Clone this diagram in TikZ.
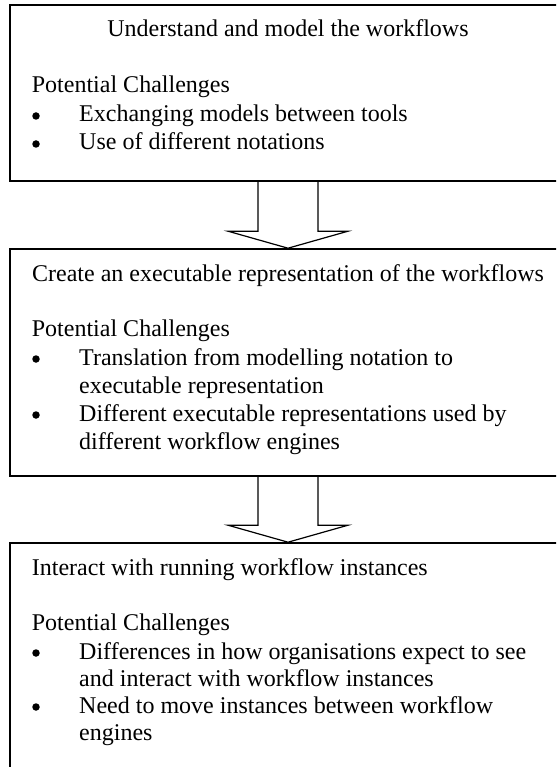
\documentclass[tikz,border=0pt]{standalone}
\usepackage{fontspec}
\setmainfont{Liberation Serif}
\usetikzlibrary{calc}
\begin{document}
\begin{tikzpicture}[x=1pt,y=-1pt,
  box/.style={draw, line width=1.6pt, rectangle, minimum width=556pt, inner sep=0pt},
  blk/.style={draw, line width=1.2pt, line join=miter},
  txt/.style={font=\fontsize{24}{28}\selectfont, inner sep=0pt, anchor=base west},
  ttl/.style={font=\fontsize{24}{28}\selectfont, inner sep=0pt, anchor=base},
  bul/.style={circle, fill=black, inner sep=0pt, minimum size=7.5pt}]
\useasboundingbox (0,0) rectangle (556,767);
\clip (0,0) rectangle (556,767);
% boxes
\node[box, minimum height=176pt] (b1) at (288,93) {};
\node[box, minimum height=227pt] (b2) at (288,362.5) {};
\node[box, minimum height=237pt] (b3) at (288,661.5) {};
% block arrows
\draw[blk] ($(b1.south)+(-30,0)$) -- ($(b2.north)+(-30,-17)$) -- ($(b2.north)+(-60,-17)$)
  -- (b2.north) -- ($(b2.north)+(60,-17)$) -- ($(b2.north)+(30,-17)$) -- ($(b1.south)+(30,0)$);
\draw[blk] ($(b2.south)+(-30,0)$) -- ($(b3.north)+(-30,-17)$) -- ($(b3.north)+(-60,-17)$)
  -- (b3.north) -- ($(b3.north)+(60,-17)$) -- ($(b3.north)+(30,-17)$) -- ($(b2.south)+(30,0)$);
% box 1 text
\node[ttl] (t1) at (288,37) {Understand and model the workflows};
\node[txt] (p1) at (31.7,93) {Potential Challenges};
\node[bul] (u11) at (36,116) {};
\node[txt] (l11) at (79,122) {Exchanging models between tools};
\node[bul] (u12) at (36,144) {};
\node[txt] (l12) at (79,150) {Use of different notations};
% box 2 text
\node[ttl] (t2) at (288,281) {Create an executable representation of the workflows};
\node[txt] (p2) at (31.7,336) {Potential Challenges};
\node[bul] (u21) at (36,359) {};
\node[txt] (l21) at (79,365) {Translation from modelling notation to};
\node[txt] (l22) at (79,393) {executable representation};
\node[bul] (u22) at (36,415) {};
\node[txt] (l23) at (79,421) {Different executable representations used by};
\node[txt] (l24) at (79,449) {different workflow engines};
% box 3 text
\node[txt] (t3) at (31.7,575) {Interact with running workflow instances};
\node[txt] (p3) at (31.7,630) {Potential Challenges};
\node[bul] (u31) at (36,653) {};
\node[txt] (l31) at (79,659) {Differences in how organisations expect to see};
\node[txt] (l32) at (79,686) {and interact with workflow instances};
\node[bul] (u32) at (36,707) {};
\node[txt] (l33) at (79,713) {Need to move instances between workflow};
\node[txt] (l34) at (79,740) {engines};
\end{tikzpicture}
\end{document}
